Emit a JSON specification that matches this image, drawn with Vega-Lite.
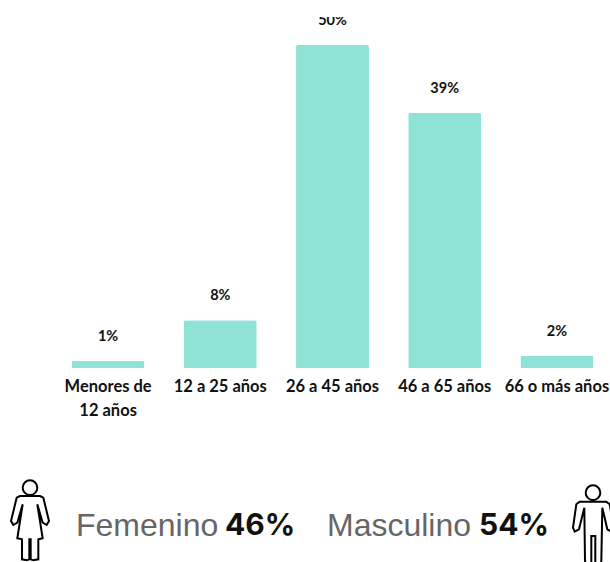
{
"$schema":"https://vega.github.io/schema/vega-lite/v6.json",
"padding":{"left":0,"top":17,"right":0,"bottom":0},
"autosize":{"type":"pad"},
"background":"white",
"spacing":0,
"config":{"view":{"stroke":null}},
"vconcat":[
{"width":610,"height":351,
"data":{"values":[
{"edad":"Menores de 12 años","valor":1.1,"etiqueta":"1%"},
{"edad":"12 a 25 años","valor":7.4,"etiqueta":"8%"},
{"edad":"26 a 45 años","valor":50,"etiqueta":"50%"},
{"edad":"46 a 65 años","valor":39.5,"etiqueta":"39%"},
{"edad":"66 o más años","valor":1.9,"etiqueta":"2%"}]},
"encoding":{
"x":{"field":"edad","type":"nominal","sort":null,
"scale":{"range":[52,613],"paddingInner":0.35,"paddingOuter":0.175},
"axis":{"title":null,"domain":false,"ticks":false,"labelAngle":0,"labelPadding":10,"labelFont":"Lato","labelFontWeight":"bold","labelFontSize":16.5,"labelColor":"#111111","labelLineHeight":24,"labelLimit":200,"labelOverlap":false,"labelBound":false,"labelFlush":false,
"labelExpr":"datum.label=='Menores de 12 años'?['Menores de','12 años']:datum.label"}},
"y":{"field":"valor","type":"quantitative","scale":{"domain":[0,54.33],"nice":false},"axis":null}},
"layer":[
{"mark":{"type":"bar","color":"#8fe3d6","cornerRadiusTopLeft":2,"cornerRadiusTopRight":2}},
{"mark":{"type":"text","clip":true,"font":"Lato","fontWeight":"bold","fontSize":14.5,"color":"#111111","baseline":"middle","dy":-24},
"encoding":{"text":{"field":"etiqueta"}}}
]},
{"width":610,"height":140,
"data":{"values":[
{"genero":"Femenino","porcentaje":"46%"},
{"genero":"Masculino","porcentaje":"54%"}]},
"resolve":{"scale":{"x":"independent","y":"independent"}},
"layer":[
{"mark":{"type":"point","filled":false,"stroke":"#000000","strokeWidth":2,"size":6400,"opacity":1},
"encoding":{
"x":{"field":"genero","type":"nominal","axis":null,"scale":{"type":"point","padding":0,"range":[30,593]}},
"y":{"field":"genero","type":"nominal","axis":null,"scale":{"type":"point","padding":0,"range":[102,106]}},
"shape":{"field":"genero","type":"nominal","legend":null,"scale":{"domain":["Femenino","Masculino"],"range":[
"M0,-1.016A.183,.183 0 1,1 0,-.65A.183,.183 0 1,1 0,-1.016ZM-.25,-.625L.25,-.625L.333,-.583L.475,0L.417,.1L.317,.042L.183,-.417L.317,.433L.208,.458L.208,.958L.083,.983L.017,.958L.017,.458L-.017,.458L-.017,.958L-.083,.983L-.2,.958L-.2,.458L-.317,.433L-.183,-.417L-.317,.042L-.417,.1L-.475,0L-.333,-.583Z",
"M0,-.991A.183,.183 0 1,1 0,-.625A.183,.183 0 1,1 0,-.991ZM-.333,-.583L.333,-.583L.417,-.517L.517,.067L.458,.167L.358,.108L.233,-.433L.208,.9L.183,.983L.083,.983L.058,.94L.058,.275L-.042,.275L-.042,.94L-.067,.983L-.167,.983L-.2,.9L-.217,-.433L-.35,.108L-.458,.167L-.5,.067L-.417,-.517Z"
]}}}},
{"mark":{"type":"text","font":"Liberation Sans","fontSize":32,"color":"#666666","align":"left","baseline":"middle"},
"encoding":{
"x":{"field":"genero","type":"nominal","axis":null,"scale":{"type":"point","padding":0,"range":[76,327]}},
"y":{"field":"genero","type":"nominal","axis":null,"scale":{"type":"point","padding":0,"range":[107,107]}},
"text":{"field":"genero"}}},
{"mark":{"type":"text","font":"Inter","fontWeight":"bold","fontSize":30,"color":"#111111","align":"left","baseline":"middle"},
"encoding":{
"x":{"field":"genero","type":"nominal","axis":null,"scale":{"type":"point","padding":0,"range":[225,479]}},
"y":{"field":"genero","type":"nominal","axis":null,"scale":{"type":"point","padding":0,"range":[107,107]}},
"text":{"field":"porcentaje"}}}
]}
]}
